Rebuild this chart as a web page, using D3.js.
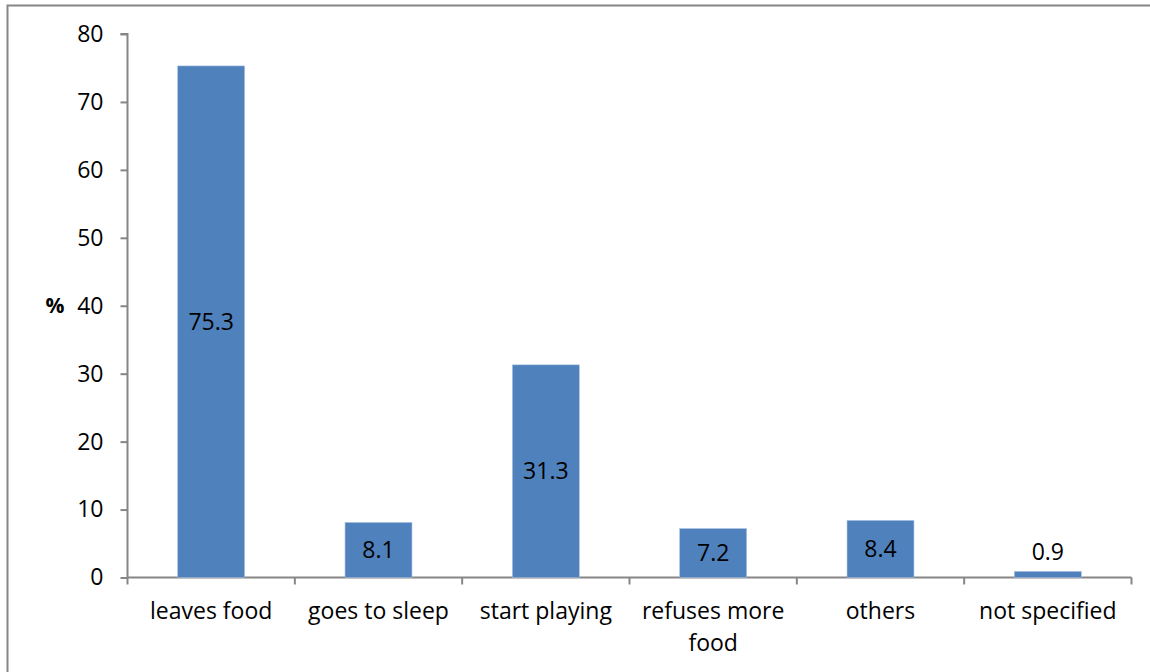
<!DOCTYPE html>
<html><head><meta charset="utf-8">
<script src="https://cdn.jsdelivr.net/npm/d3@7"></script>
<style>body{margin:0;background:#fff;} svg{display:block;}</style>
</head><body>
<svg id="chart" width="1150" height="672"></svg>
<script>
const categories = ["leaves food", "goes to sleep", "start playing", "refuses more food", "others", "not specified"];
const values = [75.3, 8.1, 31.3, 7.2, 8.4, 0.9];
const yTicks = [0, 10, 20, 30, 40, 50, 60, 70, 80];
const yLabel = "%";

(function(){
const svg = d3.select("#chart");
const font = "'Open Sans', sans-serif";
const fs = 23;
const axisColor = "#868686";
const barColor = "#4F81BD";

// outer frame
svg.append("rect").attr("x", 7.5).attr("y", 5.5).attr("width", 1160).attr("height", 680)
  .attr("fill", "none").attr("stroke", axisColor).attr("stroke-width", 2);

const pLeft = 127.5, pRight = 1131.5, pTop = 34, pBottom = 577.5;
const x = d3.scaleBand().domain(categories).range([pLeft, pRight]).paddingInner(0.6).paddingOuter(0.3);
const xb = d3.scaleBand().domain(categories).range([pLeft, pRight]);
const y = d3.scaleLinear().domain([0, 80]).range([pBottom, pTop]);

// y axis
const yAxis = svg.append("g").attr("transform", `translate(${pLeft},0)`)
  .call(d3.axisLeft(y).tickValues(yTicks).tickSize(7).tickPadding(17).tickFormat(d3.format("d")));
yAxis.selectAll("path,line").attr("stroke", axisColor).attr("stroke-width", 2);
yAxis.select(".domain").attr("d", `M-7,${pTop}H0V${pBottom}`);
yAxis.selectAll("text").attr("font-family", font).attr("font-size", fs).attr("fill", "#000");

// x axis
const xg = svg.append("g").attr("transform", `translate(0,${pBottom})`);
xg.append("line").attr("x1", pLeft).attr("x2", pRight).attr("stroke", axisColor).attr("stroke-width", 2);
const tickPos = categories.map(c => xb(c)).concat([pRight]);
xg.selectAll("line.tk").data(tickPos).join("line").attr("class", "tk")
  .attr("x1", d => d).attr("x2", d => d).attr("y1", 0).attr("y2", 7)
  .attr("stroke", axisColor).attr("stroke-width", 2);
xg.selectAll("text.cat").data(categories).join("text").attr("class", "cat")
  .attr("x", d => xb(d) + xb.bandwidth() / 2).attr("y", 41)
  .attr("text-anchor", "middle").attr("font-family", font).attr("font-size", fs).attr("fill", "#000")
  .each(function(d) {
    const t = d3.select(this);
    const words = d === "refuses more food" ? ["refuses more", "food"] : [d];
    words.forEach((w, i) => t.append("tspan").attr("x", xb(d) + xb.bandwidth() / 2).attr("dy", i ? 32 : 0).text(w));
  });

// bars
const data = categories.map((c, i) => ({c, v: values[i]}));
svg.selectAll("rect.bar").data(data).join("rect").attr("class", "bar")
  .attr("x", d => x(d.c)).attr("width", x.bandwidth())
  .attr("y", d => y(d.v)).attr("height", d => pBottom - y(d.v))
  .attr("fill", barColor).attr("stroke", "#a8c0e0").attr("stroke-width", 0.6);

// data labels
svg.selectAll("text.lbl").data(data).join("text").attr("class", "lbl")
  .attr("x", d => x(d.c) + x.bandwidth() / 2)
  .attr("y", d => (pBottom - y(d.v)) > 30 ? (y(d.v) + pBottom) / 2 : y(d.v) - 19)
  .attr("dy", "0.35em").attr("text-anchor", "middle")
  .attr("font-family", font).attr("font-size", fs).attr("fill", "#000")
  .text(d => d.v.toFixed(1));

// y label
svg.append("text").attr("x", 55).attr("y", y(40)).attr("dy", "0.35em").attr("text-anchor", "middle")
  .attr("font-family", font).attr("font-size", 21).attr("font-weight", "bold").text(yLabel);
})();
</script>
</body></html>
